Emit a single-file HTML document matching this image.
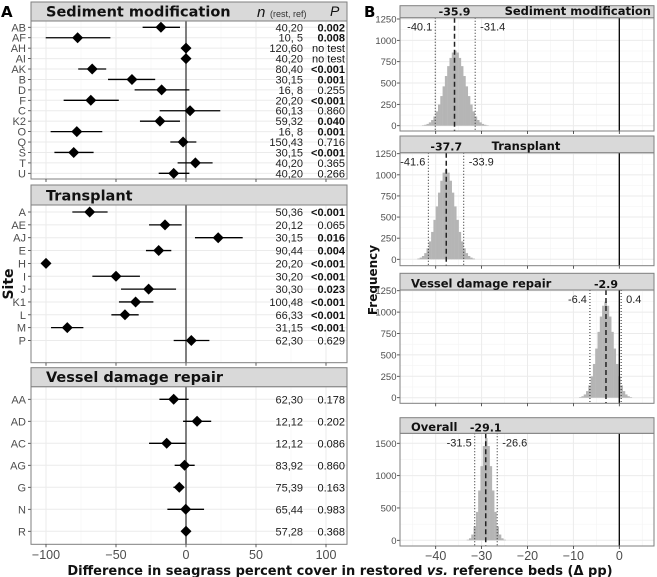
<!DOCTYPE html>
<html><head><meta charset="utf-8"><style>
body{margin:0;background:#fff}
svg{display:block;font-family:"Liberation Sans",sans-serif}
</style></head><body>
<svg id="c" width="657" height="577" viewBox="0 0 657 577"></svg>
<script>
// ---------- Panel A data ----------
const sedSites=["AB","AF","AH","AI","AK","B","D","F","C","K2","O","Q","S","T","U"];
const sedEst=[-17.9,-77.4,0,0,-67,-38.6,-17.4,-68,2.9,-18.6,-78,-2.1,-80.2,6.7,-8.8];
const sedLo=[-31,-100.2,null,null,-77,-55.7,-36.7,-87.4,-18.8,-32.9,-96.7,-11.2,-94,-6,-19.5];
const sedHi=[-4.3,-54,null,null,-57,-22,2.4,-48,24.5,-4.3,-59.8,7.4,-66,19,2.4];
const sedN=["40,20","10,  5","120,60","40,20","80,40","30,15","16,  8","20,20","60,13","59,32","16,  8","150,43","30,15","40,20","40,20"];
const sedP=["0.002","0.008","no test","no test","<0.001","0.001","0.255","<0.001","0.860","0.040","0.001","0.716","<0.001","0.365","0.266"];
const sedBold=[1,1,0,0,1,1,0,1,0,1,1,0,1,0,0];

const trSites=["A","AE","AJ","E","H","I","J","K1","L","M","P"];
const trEst=[-68.8,-15,23,-19.5,-100,-50,-26.7,-36,-43.6,-84.8,3.8];
const trLo=[-81.2,-26.4,6.4,-28.6,null,-66.9,-46.4,-47.9,-53.3,-96.4,-8.8];
const trHi=[-56,-3.1,40.5,-10.5,null,-32.9,-7.1,-23.3,-33.8,-73.3,16.7];
const trN=["50,36","20,12","30,15","90,44","20,20","30,20","30,30","100,48","66,33","31,15","62,30"];
const trP=["<0.001","0.065","0.016","0.004","<0.001","<0.001","0.023","<0.001","<0.001","<0.001","0.629"];
const trBold=[1,0,1,1,1,1,1,1,1,1,0];

const vdSites=["AA","AD","AC","AG","G","N","R"];
const vdEst=[-8.8,7.9,-13.8,-1,-4.8,-0.2,0];
const vdLo=[-19,-2.1,-26.4,-8.1,-9,-13.3,null];
const vdHi=[1.9,18,-0.2,6.2,-2.1,12.9,null];
const vdN=["62,30","12,12","12,12","83,92","75,39","65,44","57,28"];
const vdP=["0.178","0.202","0.086","0.860","0.163","0.983","0.368"];
const vdBold=[0,0,0,0,0,0,0];

const xTicksA=[-100,-50,0,50,100];
// ---------- Panel B data ----------
const binW=0.5;
const sedStart=-43;
const sedCounts=[5,11,21,39,67,108,168,248,347,461,582,698,794,857,880,857,794,698,582,461,347,248,168,108,67,39,21,11,5];
const trStart=-44;
const trCounts=[9,20,39,73,130,212,324,467,626,789,930,1026,1060,1026,930,789,626,467,324,212,130,73,39,20,9];
const vdStart=-8.75;
const vdCounts=[7,17,38,77,144,249,394,574,769,948,1074,1120,1074,948,769,574,394,249,144,77,38,17,7];
const ovStart=-33.25;
const ovCounts=[9,31,89,214,439,770,1147,1458,1580,1458,1147,770,439,214,89,31,9];
const means=[-35.9,-37.7,-2.9,-29.1];
const ciLo=[-40.1,-41.6,-6.4,-31.5];
const ciHi=[-31.4,-33.9,0.4,-26.6];
const xTicksB=[-40,-30,-20,-10,0];

const S=document.getElementById('c');
const NS="http://www.w3.org/2000/svg";
function el(t,a,p){const e=document.createElementNS(NS,t);for(const k in a)e.setAttribute(k,a[k]);(p||S).appendChild(e);return e;}
function tx(x,y,s,a,p){const e=el('text',Object.assign({x:x,y:y},a),p);e.textContent=s;return e;}

// ---- Panel A geometry
const AL=31,AR=347;
const xA=v=>186+v*1.4;
const panelsA=[
 {title:"Sediment modification",st:2,sb:21,pb:179,y0:27.3,dy:10.43,sites:sedSites,est:sedEst,lo:sedLo,hi:sedHi,n:sedN,p:sedP,b:sedBold,name:"sediment"},
 {title:"Transplant",st:185,sb:205,pb:362.7,y0:212,dy:12.85,sites:trSites,est:trEst,lo:trLo,hi:trHi,n:trN,p:trP,b:trBold,name:"transplant"},
 {title:"Vessel damage repair",st:367.7,sb:386.7,pb:544.3,y0:399.3,dy:22,sites:vdSites,est:vdEst,lo:vdLo,hi:vdHi,n:vdN,p:vdP,b:vdBold,name:"vessel"}
];
panelsA.forEach((P,pi)=>{
 const g=el('g',{});
 
 
 el('rect',{x:AL,y:P.sb,width:AR-AL,height:P.pb-P.sb,fill:'#fff'},g);
 [-75,-25,25,75].forEach(v=>el('line',{x1:xA(v),x2:xA(v),y1:P.sb,y2:P.pb,stroke:'#f3f3f3','stroke-width':0.6},g));
 xTicksA.forEach(v=>el('line',{x1:xA(v),x2:xA(v),y1:P.sb,y2:P.pb,stroke:'#ebebeb','stroke-width':1},g));
 P.sites.forEach((s,i)=>{const y=P.y0+i*P.dy;el('line',{x1:AL,x2:AR,y1:y,y2:y,stroke:'#ebebeb','stroke-width':1},g);});
 el('line',{x1:xA(0),x2:xA(0),y1:P.sb,y2:P.pb,stroke:'#555','stroke-width':1.5},g);
 P.sites.forEach((s,i)=>{
  const y=P.y0+i*P.dy;
  const lab=tx(AL-5,y+4,s,{'text-anchor':'end','font-size':11,fill:'#4d4d4d'},g);
  
  
  el('line',{x1:AL-3,x2:AL,y1:y,y2:y,stroke:'#333','stroke-width':0.8},g);
  if(P.lo[i]!==null){
   const ci=el('line',{x1:xA(P.lo[i]),x2:xA(P.hi[i]),y1:y,y2:y,stroke:'#000','stroke-width':1.3},g);
   
   
  }
  const cx=xA(P.est[i]);
  const d=el('path',{d:`M${cx} ${y-5.5}L${cx+5.5} ${y}L${cx} ${y+5.5}L${cx-5.5} ${y}Z`,fill:'#000'},g);
  
  
  const nt=tx(303,y+4,P.n[i],{'text-anchor':'end','font-size':11,fill:'#222','xml:space':'preserve'},g);
  
  
  const pt=tx(345,y+4,P.p[i],{'text-anchor':'end','font-size':11,fill:'#111','font-weight':P.b[i]?'bold':'normal'},g);
  
  
 });
 el('rect',{x:AL,y:P.sb,width:AR-AL,height:P.pb-P.sb,fill:'none',stroke:'#7f7f7f','stroke-width':1},g);
 el('rect',{x:AL,y:P.st,width:AR-AL,height:P.sb-P.st,fill:'#d9d9d9',stroke:'#7f7f7f','stroke-width':1},g);
 const t=tx(46,P.sb-4.5,P.title,{'font-family':'DejaVu Sans, sans-serif','font-weight':'bold','font-size':14.5,fill:'#111'},g);
 
 
 xTicksA.forEach(v=>el('line',{x1:xA(v),x2:xA(v),y1:P.pb,y2:P.pb+3,stroke:'#333','stroke-width':0.8},g));
});
const nh=tx(257,17,"n",{'font-size':15,'font-style':'italic',fill:'#111'});


tx(270,17,"(rest, ref)",{'font-size':9,fill:'#333'});
const ph=tx(330,16,"P",{'font-size':14,'font-style':'italic',fill:'#111'});


xTicksA.forEach(v=>{const t=tx(xA(v),559,v<0?'\u2212'+(-v):String(v),{'text-anchor':'middle','font-size':12.5,fill:'#4d4d4d'});
 
 });
const st=tx(0,0,"Site",{'font-size':14,'font-weight':'bold','font-family':'DejaVu Sans, sans-serif',transform:'translate(13,284) rotate(-90)','text-anchor':'middle',fill:'#111'});


const la=tx(1,17,"A",{'font-size':15,'font-weight':'bold','font-family':'DejaVu Sans, sans-serif'});



// ---- Panel B
const BL=400,BR=654;
const xB=v=>619.3+v*4.59;
const panelsB=[
 {title:"Sediment modification",align:'right',st:5.7,sb:17.7,pb:131,z:125.7,ppu:106.7/1250,ticks:[0,250,500,750,1000,1250],start:sedStart,counts:sedCounts,name:"sediment"},
 {title:"Transplant",align:'center',st:136,sb:152.7,pb:265.7,z:259.3,ppu:105.6/1250,ticks:[0,250,500,750,1000,1250],start:trStart,counts:trCounts,name:"transplant"},
 {title:"Vessel damage repair",align:'left',st:273.3,sb:290,pb:403.3,z:397.7,ppu:107/1250,ticks:[0,250,500,750,1000,1250],start:vdStart,counts:vdCounts,name:"vessel"},
 {title:"Overall",align:'left',st:417.7,sb:433.3,pb:546,z:540.3,ppu:97/1500,ticks:[0,500,1000,1500],start:ovStart,counts:ovCounts,name:"overall"}
];
panelsB.forEach((P,pi)=>{
 const g=el('g',{});
 
 
 const yv=c=>P.z-c*P.ppu;
 el('rect',{x:BL,y:P.sb,width:BR-BL,height:P.pb-P.sb,fill:'#fff'},g);
 [-45,-35,-25,-15,-5,5].forEach(v=>el('line',{x1:xB(v),x2:xB(v),y1:P.sb,y2:P.pb,stroke:'#f3f3f3','stroke-width':0.6},g));
 for(let k=0;k<P.ticks.length-1;k++){const m=(P.ticks[k]+P.ticks[k+1])/2;el('line',{x1:BL,x2:BR,y1:yv(m),y2:yv(m),stroke:'#f3f3f3','stroke-width':0.6},g);}
 xTicksB.forEach(v=>el('line',{x1:xB(v),x2:xB(v),y1:P.sb,y2:P.pb,stroke:'#ebebeb','stroke-width':1},g));
 P.ticks.forEach(t=>{el('line',{x1:BL,x2:BR,y1:yv(t),y2:yv(t),stroke:'#ebebeb','stroke-width':1},g);
  el('line',{x1:BL-3,x2:BL,y1:yv(t),y2:yv(t),stroke:'#333','stroke-width':0.8},g);
  const l=tx(BL-3.5,yv(t)+3.5,String(t),{'text-anchor':'end','font-size':9.5,fill:'#4d4d4d'},g);
  
  });
 P.counts.forEach((c,i)=>{
  const x0=xB(P.start+i*binW),x1=xB(P.start+(i+1)*binW);
  const r=el('rect',{x:x0,y:yv(c),width:x1-x0+0.2,height:P.z-yv(c),fill:'#b5b5b5'},g);
  
  
 });
 el('line',{x1:xB(0),x2:xB(0),y1:P.sb,y2:P.pb,stroke:'#000','stroke-width':1.3},g);
 el('line',{x1:xB(means[pi]),x2:xB(means[pi]),y1:P.sb,y2:P.pb,stroke:'#222','stroke-width':1.5,'stroke-dasharray':'5,3'},g);
 [ciLo[pi],ciHi[pi]].forEach(v=>el('line',{x1:xB(v),x2:xB(v),y1:P.sb,y2:P.pb,stroke:'#222','stroke-width':1,'stroke-dasharray':'1,2'},g));
 const lo=tx(xB(ciLo[pi])-3,P.sb+13,ciLo[pi].toFixed(1),{'text-anchor':'end','font-size':11,fill:'#222'},g);
 
 
 const hi=tx(xB(ciHi[pi])+5,P.sb+13,ciHi[pi].toFixed(1),{'font-size':11,fill:'#222'},g);
 
 
 el('rect',{x:BL,y:P.sb,width:BR-BL,height:P.pb-P.sb,fill:'none',stroke:'#7f7f7f','stroke-width':1},g);
 el('rect',{x:BL,y:P.st,width:BR-BL,height:P.sb-P.st,fill:'#d9d9d9',stroke:'#7f7f7f','stroke-width':1},g);
 let tX=P.align==='right'?BR-3:(P.align==='center'?526:411);
 const t=tx(tX,P.sb-2.5,P.title,{'text-anchor':P.align==='right'?'end':(P.align==='center'?'middle':'start'),'font-family':'DejaVu Sans, sans-serif','font-weight':'bold','font-size':11.5,fill:'#111'},g);
 
 
 const m=tx(xB(means[pi]),P.sb-2,means[pi].toFixed(1),{'text-anchor':'middle','font-family':'DejaVu Sans, sans-serif','font-weight':'bold','font-size':11,fill:'#111'},g);
 
 
 xTicksB.forEach(v=>el('line',{x1:xB(v),x2:xB(v),y1:P.pb,y2:P.pb+3,stroke:'#333','stroke-width':0.8},g));
});
xTicksB.forEach(v=>{const t=tx(xB(v),560,v<0?'\u2212'+(-v):String(v),{'text-anchor':'middle','font-size':12.5,fill:'#4d4d4d'});
 
 });
const fq=tx(0,0,"Frequency",{'font-size':12,'font-weight':'bold','font-family':'DejaVu Sans, sans-serif',transform:'translate(377,280) rotate(-90)','text-anchor':'middle',fill:'#111'});


const lb=tx(364,17,"B",{'font-size':15,'font-weight':'bold','font-family':'DejaVu Sans, sans-serif'});


const xt=el('text',{x:340,y:575,'text-anchor':'middle','font-size':13,'font-weight':'bold','font-family':'DejaVu Sans, sans-serif',fill:'#111'});


xt.innerHTML='Difference in seagrass percent cover in restored <tspan font-style="italic">vs.</tspan> reference beds (\u0394 pp)';
</script>
</body></html>
